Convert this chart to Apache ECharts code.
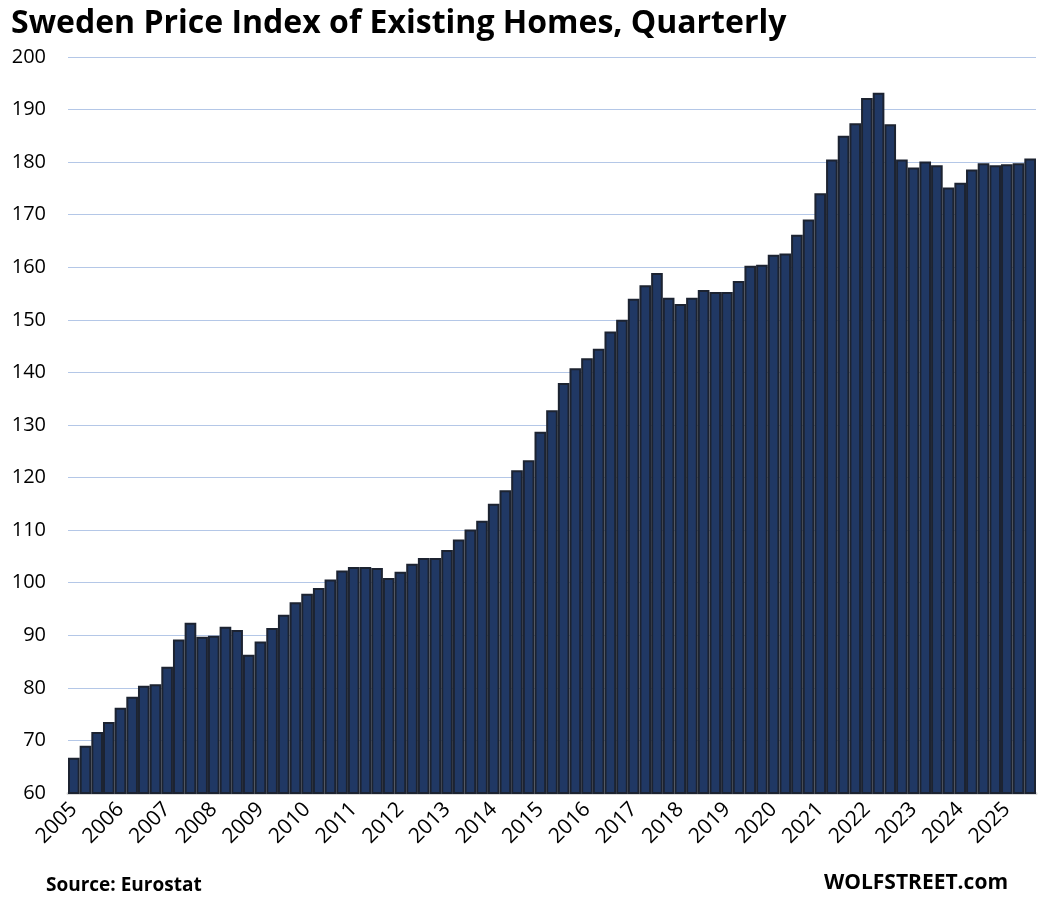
<!DOCTYPE html>
<html>
<head>
<meta charset="utf-8">
<script src="https://cdn.jsdelivr.net/npm/echarts@6/dist/echarts.min.js"></script>
<style>html,body{margin:0;padding:0;background:#fff}#c{width:1044px;height:909px}</style>
</head>
<body>
<div id="c"></div>
<script>
var years = [2005,2006,2007,2008,2009,2010,2011,2012,2013,2014,2015,2016,2017,2018,2019,2020,2021,2022,2023,2024,2025];
var quarters = ['Q1','Q2','Q3','Q4'];
var lastQuarterCount = 3; // 2025 through Q3
var categories = [];
years.forEach(function(y, i){
  var n = (i === years.length - 1) ? lastQuarterCount : 4;
  for (var q = 0; q < n; q++) categories.push(y + ' ' + quarters[q]);
});
var values = [
  66.7, 69.0, 71.6, 73.5,
  76.2, 78.3, 80.4, 80.7,
  84.0, 89.2, 92.4, 89.7,
  89.9, 91.6, 91.0, 86.3,
  88.8, 91.4, 93.9, 96.3,
  97.9, 99.0, 100.6, 102.3,
  103.0, 103.0, 102.8, 100.9,
  102.1, 103.6, 104.7, 104.7,
  106.2, 108.2, 110.1, 111.8,
  115.0, 117.6, 121.4, 123.3,
  128.7, 132.8, 138.0, 140.8,
  142.7, 144.5, 147.8, 150.0,
  154.0, 156.6, 158.9, 154.2,
  153.0, 154.2, 155.7, 155.3,
  155.3, 157.4, 160.3, 160.5,
  162.4, 162.6, 166.2, 169.1,
  174.1, 180.5, 185.0, 187.4,
  192.2, 193.2, 187.2, 180.5,
  179.0, 180.1, 179.4, 175.2,
  176.1, 178.6, 179.8, 179.4,
  179.6, 179.8, 180.7
];
var yMin = 60, yMax = 200, yStep = 10;
var titleText = 'Sweden Price Index of Existing Homes, Quarterly';
var sourceText = 'Source: Eurostat';
var brandText = 'WOLFSTREET.com';

var chart = echarts.init(document.getElementById('c'), null, {renderer: 'canvas'});
var font = '"Open Sans", "Noto Sans", sans-serif';
chart.setOption({
  animation: false,
  backgroundColor: '#ffffff',
  title: {
    text: titleText,
    left: 6, top: 3,
    textStyle: {fontFamily: font, fontWeight: 'bold', fontSize: 32, color: '#000'}
  },
  graphic: [
    {type: 'text', left: 46, top: 876, style: {text: sourceText, font: 'bold 19px ' + font, fill: '#000'}},
    {type: 'text', right: 36, top: 873, style: {text: brandText, font: 'bold 21px ' + font, fill: '#000'}}
  ],
  grid: {left: 68, right: 8, top: 57, bottom: 116, containLabel: false},
  xAxis: {
    type: 'category',
    data: categories,
    axisLine: {show: true, lineStyle: {color: '#d9d9d9', width: 3}},
    axisTick: {show: false},
    axisLabel: {
      interval: 3,
      rotate: 45,
      margin: 13,
      fontFamily: font,
      fontSize: 21,
      color: '#000',
      formatter: function(v){ return v.split(' ')[0]; }
    }
  },
  yAxis: {
    type: 'value',
    min: yMin, max: yMax, interval: yStep,
    axisLine: {show: false},
    axisTick: {show: false},
    axisLabel: {fontFamily: font, fontSize: 20, color: '#000', margin: 22},
    splitLine: {lineStyle: {color: '#b4c7e7', width: 1}}
  },
  series: [{
    type: 'bar',
    data: values,
    barCategoryGap: '0%',
    itemStyle: {color: '#203864', borderColor: '#1c2331', borderWidth: 2}
  }]
});
</script>
</body>
</html>
